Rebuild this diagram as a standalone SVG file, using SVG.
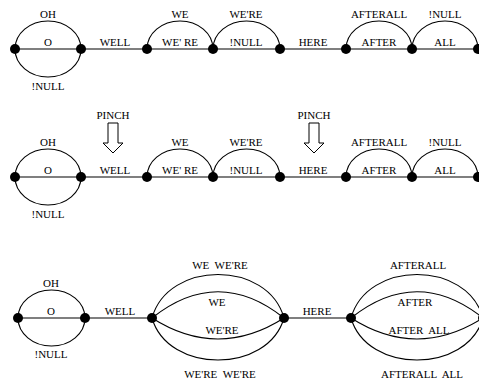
<svg xmlns="http://www.w3.org/2000/svg" width="479" height="381" viewBox="0 0 479 381">
  <style>
    .edge { fill: none; stroke: #000; stroke-width: 1.1; }
    .node { fill: #000; }
    .lbl { font-family: "Liberation Serif", "Times New Roman", serif; font-size: 11px; text-anchor: middle; fill: #000; }
    .pinch { fill: #fff; stroke: #000; stroke-width: 1; }
  </style>
  <defs>
    <circle id="dot" r="5" class="node"/>
    <!-- hollow downward arrow, tip at origin -->
    <path id="pinchArrow" class="pinch" d="M-5,-30 L5,-30 L5,-10 L10,-10 L0,0 L-10,-10 L-5,-10 Z"/>
  </defs>

  <rect width="479" height="381" fill="#fff"/>

  <!-- Row 1 -->
  <g id="connectors-row1">
    <line class="edge" x1="15" y1="49" x2="478" y2="49"/>
    <path class="edge" d="M15,49 A33,28 0 0 1 81,49"/>
    <path class="edge" d="M15,49 A33,28 0 0 0 81,49"/>
    <path class="edge" d="M147,49 A33,28 0 0 1 213,49"/>
    <path class="edge" d="M213,49 A33.5,28 0 0 1 280,49"/>
    <path class="edge" d="M346,49 A33,28 0 0 1 412,49"/>
    <path class="edge" d="M412,49 A33,28 0 0 1 478,49"/>
  </g>
  <g id="nodes-row1">
    <g id="r1n1"><use href="#dot" x="15" y="49"/></g>
    <g id="r1n2"><use href="#dot" x="81" y="49"/></g>
    <g id="r1n3"><use href="#dot" x="147" y="49"/></g>
    <g id="r1n4"><use href="#dot" x="213" y="49"/></g>
    <g id="r1n5"><use href="#dot" x="280" y="49"/></g>
    <g id="r1n6"><use href="#dot" x="346" y="49"/></g>
    <g id="r1n7"><use href="#dot" x="412" y="49"/></g>
    <g id="r1n8"><use href="#dot" x="478" y="49"/></g>
  </g>
  <g id="labels-row1" class="lbl">
    <text x="48" y="18">OH</text>
    <text x="48" y="46">O</text>
    <text x="48" y="90">!NULL</text>
    <text x="115" y="46">WELL</text>
    <text x="180" y="18">WE</text>
    <text x="180" y="46">WE' RE</text>
    <text x="246" y="18">WE'RE</text>
    <text x="246" y="46">!NULL</text>
    <text x="313" y="46">HERE</text>
    <text x="379" y="18">AFTERALL</text>
    <text x="379" y="46">AFTER</text>
    <text x="445" y="18">!NULL</text>
    <text x="445" y="46">ALL</text>
  </g>

  <!-- Row 2 -->
  <g id="connectors-row2">
    <line class="edge" x1="15" y1="177" x2="478" y2="177"/>
    <path class="edge" d="M15,177 A33,28 0 0 1 81,177"/>
    <path class="edge" d="M15,177 A33,28 0 0 0 81,177"/>
    <path class="edge" d="M147,177 A33,28 0 0 1 213,177"/>
    <path class="edge" d="M213,177 A33.5,28 0 0 1 280,177"/>
    <path class="edge" d="M346,177 A33,28 0 0 1 412,177"/>
    <path class="edge" d="M412,177 A33,28 0 0 1 478,177"/>
  </g>
  <g id="nodes-row2">
    <g id="r2n1"><use href="#dot" x="15" y="177"/></g>
    <g id="r2n2"><use href="#dot" x="81" y="177"/></g>
    <g id="r2n3"><use href="#dot" x="147" y="177"/></g>
    <g id="r2n4"><use href="#dot" x="213" y="177"/></g>
    <g id="r2n5"><use href="#dot" x="280" y="177"/></g>
    <g id="r2n6"><use href="#dot" x="346" y="177"/></g>
    <g id="r2n7"><use href="#dot" x="412" y="177"/></g>
    <g id="r2n8"><use href="#dot" x="478" y="177"/></g>
  </g>
  <g id="pinch-left">
    <use href="#pinchArrow" x="113" y="153"/>
    <text class="lbl" x="113" y="119">PINCH</text>
  </g>
  <g id="pinch-right">
    <use href="#pinchArrow" x="314" y="153"/>
    <text class="lbl" x="314" y="119">PINCH</text>
  </g>
  <g id="labels-row2" class="lbl">
    <text x="48" y="146">OH</text>
    <text x="48" y="174">O</text>
    <text x="48" y="218">!NULL</text>
    <text x="115" y="174">WELL</text>
    <text x="180" y="146">WE</text>
    <text x="180" y="174">WE' RE</text>
    <text x="246" y="146">WE'RE</text>
    <text x="246" y="174">!NULL</text>
    <text x="313" y="174">HERE</text>
    <text x="379" y="146">AFTERALL</text>
    <text x="379" y="174">AFTER</text>
    <text x="445" y="146">!NULL</text>
    <text x="445" y="174">ALL</text>
  </g>

  <!-- Row 3 -->
  <g id="connectors-row3">
    <line class="edge" x1="18" y1="318" x2="152" y2="318"/>
    <line class="edge" x1="284" y1="318" x2="351" y2="318"/>
    <path class="edge" d="M18,318 A33.5,28 0 0 1 85,318"/>
    <path class="edge" d="M18,318 A33.5,28 0 0 0 85,318"/>
    <!-- WE / WE'RE lens -->
    <path class="edge" d="M152,318 C168,260 268,260 284,318"/>
    <path class="edge" d="M152,318 C196,283 240,283 284,318"/>
    <path class="edge" d="M152,318 C196,346 240,346 284,318"/>
    <path class="edge" d="M152,318 C168,374 268,374 284,318"/>
    <!-- AFTER / ALL lens -->
    <path class="edge" d="M351,318 C367,260 467,260 483,318"/>
    <path class="edge" d="M351,318 C395,283 439,283 483,318"/>
    <path class="edge" d="M351,318 C395,346 439,346 483,318"/>
    <path class="edge" d="M351,318 C367,374 467,374 483,318"/>
  </g>
  <g id="nodes-row3">
    <g id="r3n1"><use href="#dot" x="18" y="318"/></g>
    <g id="r3n2"><use href="#dot" x="85" y="318"/></g>
    <g id="r3n3"><use href="#dot" x="152" y="318"/></g>
    <g id="r3n4"><use href="#dot" x="284" y="318"/></g>
    <g id="r3n5"><use href="#dot" x="351" y="318"/></g>
    <g id="r3n6"><use href="#dot" x="483" y="318"/></g>
  </g>
  <g id="labels-row3" class="lbl">
    <text x="51" y="287">OH</text>
    <text x="51" y="315">O</text>
    <text x="51" y="358">!NULL</text>
    <text x="120" y="315">WELL</text>
    <text x="220" y="269" xml:space="preserve">WE  WE'RE</text>
    <text x="217" y="306">WE</text>
    <text x="222" y="334">WE'RE</text>
    <text x="220" y="378" xml:space="preserve">WE'RE  WE'RE</text>
    <text x="317" y="315">HERE</text>
    <text x="418" y="269">AFTERALL</text>
    <text x="415" y="306">AFTER</text>
    <text x="419" y="334" xml:space="preserve">AFTER  ALL</text>
    <text x="422" y="378" xml:space="preserve">AFTERALL  ALL</text>
  </g>
</svg>
